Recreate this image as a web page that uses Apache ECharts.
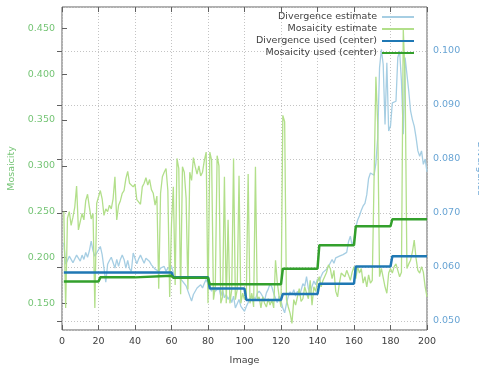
<!DOCTYPE html>
<html>
<head>
<meta charset="utf-8">
<script src="https://cdn.jsdelivr.net/npm/echarts@6/dist/echarts.min.js"></script>
<style>html,body{margin:0;padding:0;background:#fff}#c{width:479px;height:369px}</style>
</head>
<body>
<div id="c"></div>
<script>
// Image index runs 1..200
const divergenceEstimate = [
0.0645,0.0605,0.0612,0.0620,0.0614,0.0608,0.0611,0.0622,0.0620,0.0611,
0.0622,0.0614,0.0627,0.0618,0.0630,0.0648,0.0630,0.0620,0.0626,0.0632,
0.0638,0.0623,0.0598,0.0572,0.0605,0.0612,0.0618,0.0616,0.0598,0.0614,
0.0601,0.0614,0.0622,0.0614,0.0598,0.0612,0.0597,0.0592,0.0626,0.0628,
0.0606,0.0615,0.0622,0.0620,0.0607,0.0616,0.0616,0.0610,0.0604,0.0601,
0.0596,0.0598,0.0592,0.0598,0.0595,0.0601,0.0592,0.0598,0.0596,0.0601,
0.0590,0.0583,0.0583,0.0580,0.0577,0.0574,0.0571,0.0565,0.0567,0.0546,
0.0537,0.0549,0.0555,0.0561,0.0564,0.0567,0.0561,0.0570,0.0577,0.0580,
0.0561,0.0555,0.0564,0.0555,0.0552,0.0561,0.0546,0.0558,0.0543,0.0549,
0.0540,0.0546,0.0534,0.0546,0.0524,0.0521,0.0540,0.0527,0.0530,0.0518,
0.0527,0.0534,0.0541,0.0546,0.0549,0.0541,0.0551,0.0555,0.0551,0.0545,
0.0538,0.0552,0.0559,0.0569,0.0563,0.0551,0.0542,0.0534,0.0546,0.0537,
0.0524,0.0515,0.0532,0.0546,0.0554,0.0549,0.0558,0.0546,0.0555,0.0547,
0.0557,0.0569,0.0564,0.0582,0.0560,0.0549,0.0564,0.0574,0.0567,0.0578,
0.0574,0.0583,0.0590,0.0590,0.0596,0.0601,0.0604,0.0614,0.0607,0.0617,
0.0614,0.0620,0.0617,0.0623,0.0621,0.0627,0.0647,0.0657,0.0639,0.0652,
0.0674,0.0687,0.0695,0.0705,0.0713,0.0718,0.0734,0.0764,0.0774,0.0777,
0.0770,0.0792,0.0840,0.0969,0.1003,0.0975,0.0864,0.0978,0.0852,0.0861,
0.0904,0.0902,0.0907,0.0988,0.1000,0.0944,0.0846,0.0988,0.0985,0.0926,
0.0889,0.0873,0.0861,0.0840,0.0815,0.0805,0.0815,0.0790,0.0800,0.0776
];
const mosaicityEstimate = [
0.250,0.145,0.243,0.250,0.235,0.244,0.255,0.278,0.230,0.228,
0.248,0.241,0.262,0.269,0.255,0.242,0.248,0.145,0.259,0.261,
0.273,0.264,0.246,0.253,0.250,0.257,0.253,0.264,0.288,0.241,
0.257,0.262,0.270,0.273,0.286,0.294,0.281,0.279,0.277,0.280,
0.263,0.261,0.258,0.277,0.281,0.287,0.279,0.285,0.274,0.270,
0.257,0.267,0.166,0.270,0.288,0.293,0.297,0.273,0.157,0.237,
0.277,0.170,0.308,0.297,0.160,0.299,0.293,0.265,0.165,0.293,
0.284,0.309,0.299,0.291,0.300,0.289,0.293,0.306,0.315,0.150,
0.315,0.306,0.154,0.168,0.311,0.300,0.150,0.157,0.288,0.150,
0.241,0.150,0.165,0.308,0.154,0.165,0.289,0.150,0.161,0.154,
0.159,0.291,0.150,0.161,0.146,0.299,0.154,0.157,0.145,0.157,
0.150,0.146,0.155,0.148,0.154,0.145,0.197,0.172,0.157,0.146,
0.355,0.348,0.154,0.146,0.139,0.128,0.154,0.148,0.157,0.166,
0.152,0.155,0.168,0.161,0.155,0.175,0.148,0.168,0.163,0.174,
0.179,0.168,0.175,0.174,0.184,0.192,0.188,0.177,0.186,0.163,
0.157,0.172,0.183,0.184,0.179,0.186,0.181,0.175,0.184,0.190,
0.177,0.190,0.183,0.188,0.172,0.179,0.168,0.181,0.172,0.175,
0.177,0.397,0.345,0.179,0.188,0.190,0.168,0.161,0.183,0.188,
0.183,0.190,0.193,0.186,0.179,0.184,0.449,0.395,0.188,0.193,
0.197,0.206,0.219,0.199,0.186,0.183,0.190,0.184,0.168,0.157
];
// values used per block of 20 images
const divergenceUsed = [0.0590,0.0590,0.0590,0.0581,0.0560,0.0539,0.0550,0.0569,0.0601,0.0620];
const mosaicityUsed  = [0.1739,0.1783,0.1801,0.1779,0.1707,0.1707,0.1877,0.2134,0.2341,0.2417];
const blockSize = 20;
const xTicks = [0,20,40,60,80,100,120,140,160,180,200];
const mosTicks = [0.15,0.20,0.25,0.30,0.35,0.40,0.45];
const divTicks = [0.05,0.06,0.07,0.08,0.09,0.10];

const est = arr => arr.map((v,i)=>[i+1, v]);
const steps = arr => { const out=[]; arr.forEach((v,b)=>{ out.push([b*blockSize+1, v]); out.push([b*blockSize+blockSize, v]); }); return out; };

const FONT = 'DejaVu Sans';
const FS = 9.5;
const GREEN_TXT = '#74c474';
const BLUE_TXT = '#68a4d4';
const DARK = '#404040';

const chart = echarts.init(document.getElementById('c'), null, {renderer:'canvas'});
chart.setOption({
  animation: false,
  backgroundColor: '#ffffff',
  textStyle: {fontFamily: FONT},
  grid: {left: 62, right: 52, top: 7, bottom: 39, show: true, borderColor: '#606060', borderWidth: 1,
    backgroundColor: 'transparent', containLabel: false, outerBoundsMode: 'none'},
  legend: {
    right: 64, top: 11, orient: 'vertical', align: 'right', padding: 0,
    itemWidth: 32, itemHeight: 8, itemGap: 0,
    itemStyle: {opacity: 0},
    textStyle: {fontFamily: FONT, fontSize: FS, color: DARK, lineHeight: 12},
    data: ['Divergence estimate','Mosaicity estimate','Divergence used (center)','Mosaicity used (center)']
  },
  xAxis: [{
    type: 'value', min: 0, max: 200, interval: 20,
    name: 'Image', nameLocation: 'middle', nameGap: 26,
    nameTextStyle: {fontFamily: FONT, fontSize: FS, color: DARK},
    axisLine: {show: false},
    axisTick: {show: true, inside: true, length: 5, lineStyle: {color: '#606060'}},
    axisLabel: {fontFamily: FONT, fontSize: FS, color: DARK, margin: 7, customValues: xTicks},
    splitLine: {show: true, lineStyle: {color: '#c4c4c4', type: [1,2], width: 1}}
  },{
    type: 'value', min: 0, max: 200, interval: 20, position: 'top',
    axisLine: {show: false},
    axisTick: {show: true, inside: true, length: 5, lineStyle: {color: '#606060'}},
    axisLabel: {show: false},
    splitLine: {show: false}
  }],
  yAxis: [{
    type: 'value', position: 'left', min: 0.1209, max: 0.4732,
    name: 'Mosaicity', nameLocation: 'middle', nameGap: 44, nameRotate: 90,
    nameTextStyle: {fontFamily: FONT, fontSize: FS, color: GREEN_TXT},
    axisLine: {show: false},
    axisTick: {show: true, inside: true, length: 5, customValues: mosTicks, lineStyle: {color: '#606060'}},
    axisLabel: {fontFamily: FONT, fontSize: FS, color: GREEN_TXT, margin: 7, customValues: mosTicks, formatter: v => v.toFixed(3)},
    splitLine: {show: false}
  },{
    type: 'value', position: 'right', min: 0.04833, max: 0.10815,
    name: 'Divergence', nameLocation: 'middle', nameGap: 48, nameRotate: -90,
    nameTextStyle: {fontFamily: FONT, fontSize: FS, color: BLUE_TXT},
    axisLine: {show: false},
    axisTick: {show: true, inside: true, length: 5, lineStyle: {color: '#606060'}},
    axisLabel: {fontFamily: FONT, fontSize: FS, color: BLUE_TXT, margin: 6, showMinLabel: false, showMaxLabel: false,
      formatter: v => (Math.abs(v*100 - Math.round(v*100)) < 1e-6 ? v.toFixed(3) : '')},
    splitLine: {show: true, lineStyle: {color: '#c4c4c4', type: [1,2], width: 1}}
  }],
  series: [
    {name: 'Divergence estimate', type: 'line', yAxisIndex: 1, symbol: 'none', data: est(divergenceEstimate),
      lineStyle: {color: '#a6cee3', width: 1.3}, itemStyle: {color: '#a6cee3'}},
    {name: 'Mosaicity estimate', type: 'line', yAxisIndex: 0, symbol: 'none', data: est(mosaicityEstimate),
      lineStyle: {color: '#b2df8a', width: 1.3}, itemStyle: {color: '#b2df8a'}},
    {name: 'Divergence used (center)', type: 'line', yAxisIndex: 1, symbol: 'none', data: steps(divergenceUsed),
      lineStyle: {color: '#1f78b4', width: 2.5}, itemStyle: {color: '#1f78b4'}},
    {name: 'Mosaicity used (center)', type: 'line', yAxisIndex: 0, symbol: 'none', data: steps(mosaicityUsed),
      lineStyle: {color: '#33a02c', width: 2.5}, itemStyle: {color: '#33a02c'}}
  ]
});
</script>
</body>
</html>
